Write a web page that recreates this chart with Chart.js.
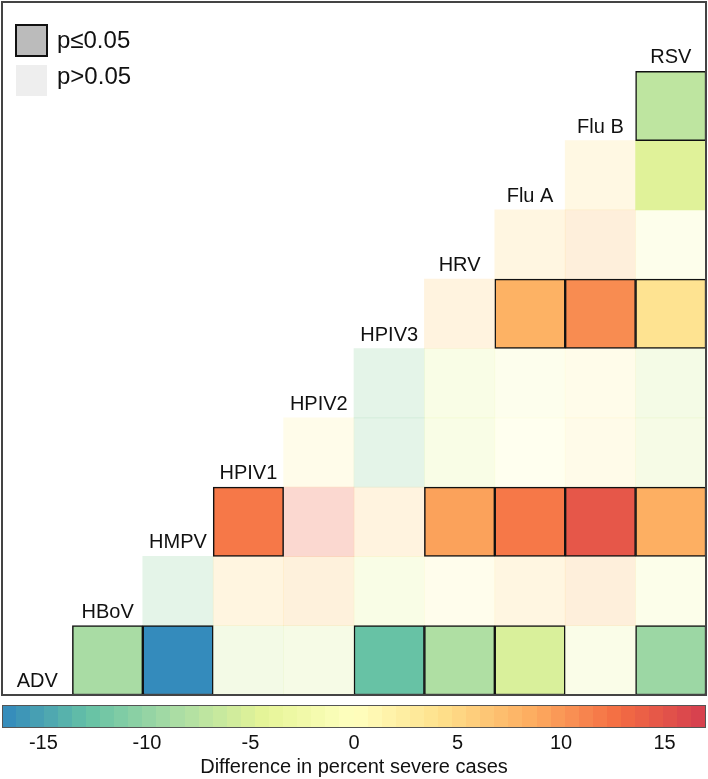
<!DOCTYPE html>
<html>
<head>
<meta charset="utf-8">
<script src="https://cdn.jsdelivr.net/npm/chart.js@4"></script>
<style>
  html, body { margin: 0; padding: 0; background: #fff; }
  canvas { display: block; }
</style>
</head>
<body>
<canvas id="graphique-virus" width="708" height="779"></canvas>
<script>
// Virus dans l'ordre des colonnes (gauche -> droite) et des lignes (bas -> haut)
const virus = ["ADV", "HBoV", "HMPV", "HPIV1", "HPIV2", "HPIV3", "HRV", "Flu A", "Flu B", "RSV"];

// Différence en % de cas sévères : une liste par ligne, colonnes à droite de la diagonale
const diffADV   = [-8.6, -16.8, -6, -5, -12.7, -8.2, -5.2, -3, -9.4];
const diffHBoV  = [-10, 5, 6.5, -4, 1, 4.5, 7, -2];
const diffHMPV  = [12, 13.5, 5.5, 9.3, 12, 14.7, 8.4];
const diffHPIV1 = [1.5, -10, -4, 0, 2, -5];
const diffHPIV2 = [-10, -4, -1, 1.5, -5.5];
const diffHPIV3 = [5.5, 8.2, 10.7, 3.8];
const diffHRV   = [4.5, 7, -1.5];
const diffFluA  = [4, -4.7];
const diffFluB  = [-7.1];

// Significativité : 1 = p≤0.05, 0 = p>0.05, 2 = affiché plein sans contour
const sigADV   = [1, 1, 0, 0, 1, 1, 1, 0, 1];
const sigHBoV  = [0, 0, 0, 0, 0, 0, 0, 0];
const sigHMPV  = [1, 0, 0, 1, 1, 1, 1];
const sigHPIV1 = [0, 0, 0, 0, 0, 0];
const sigHPIV2 = [0, 0, 0, 0, 0];
const sigHPIV3 = [0, 1, 1, 1];
const sigHRV   = [0, 0, 0];
const sigFluA  = [0, 2];
const sigFluB  = [1];

// Échelle de couleur et ticks de la barre de couleur
const echelleMin = -17;
const echelleMax = 17;
const ticksBarre = [-15, -10, -5, 0, 5, 10, 15];

const lignesDiff = [diffADV, diffHBoV, diffHMPV, diffHPIV1, diffHPIV2, diffHPIV3, diffHRV, diffFluA, diffFluB];
const lignesSig = [sigADV, sigHBoV, sigHMPV, sigHPIV1, sigHPIV2, sigHPIV3, sigHRV, sigFluA, sigFluB];

// Palette Spectral inversée (bleu -> rouge)
const spectral = ["#3288bd", "#66c2a5", "#abdda4", "#e6f598", "#ffffbf", "#fee08b", "#fdae61", "#f46d43", "#d53e4f"];
const hexVersRgb = h => [1, 3, 5].map(k => parseInt(h.slice(k, k + 2), 16));

function couleur(v, alpha) {
    const t = (Math.max(echelleMin, Math.min(echelleMax, v)) - echelleMin) / (echelleMax - echelleMin) * (spectral.length - 1);
    const k = Math.min(spectral.length - 2, Math.floor(t));
    const f = t - k;
    const c0 = hexVersRgb(spectral[k]), c1 = hexVersRgb(spectral[k + 1]);
    const c = c0.map((x, n) => Math.round(x + (c1[n] - x) * f));
    return `rgba(${c[0]}, ${c[1]}, ${c[2]}, ${alpha})`;
}

// Construction des cellules (barres flottantes d'une unité de haut)
const cellulesSig = [];
const cellulesNs = [];
lignesDiff.forEach((valeurs, i) => {
    valeurs.forEach((v, k) => {
        const j = i + 1 + k;
        const cellule = { x: virus[j], y: [i, i + 1], v: v, s: lignesSig[i][k] };
        if (cellule.s === 1) cellulesSig.push(cellule);
        else cellulesNs.push(cellule);
    });
});

const police = "'Liberation Sans', Arial, sans-serif";

// Cadre, étiquettes de la diagonale, légende et barre de couleur
const decorations = {
    id: "decorations",
    afterDatasetsDraw(chart) {
        const ctx = chart.ctx;
        const zone = chart.chartArea;
        const sx = chart.scales.x;
        const sy = chart.scales.y;
        ctx.save();

        // étiquettes sur la diagonale
        ctx.fillStyle = "#111";
        ctx.font = "20px " + police;
        ctx.textAlign = "center";
        ctx.textBaseline = "alphabetic";
        virus.forEach((nom, j) => {
            ctx.fillText(nom, sx.getPixelForValue(j), sy.getPixelForValue(j) - 8);
        });

        // légende p-value
        ctx.fillStyle = "#bbbbbb";
        ctx.fillRect(zone.left + 13, zone.top + 22, 33, 33);
        ctx.strokeStyle = "#111";
        ctx.lineWidth = 2;
        ctx.strokeRect(zone.left + 14, zone.top + 23, 31, 31);
        ctx.fillStyle = "#eeeeee";
        ctx.fillRect(zone.left + 14, zone.top + 63, 31, 31);
        ctx.fillStyle = "#111";
        ctx.font = "24px " + police;
        ctx.textAlign = "left";
        ctx.fillText("p\u22640.05", zone.left + 55, zone.top + 46);
        ctx.fillText("p>0.05", zone.left + 55, zone.top + 82);

        // cadre
        ctx.strokeStyle = "#444";
        ctx.lineWidth = 2;
        ctx.strokeRect(zone.left, zone.top, zone.right - zone.left, zone.bottom - zone.top);

        // barre de couleur sur l'axe "barre"
        const sb = chart.scales.barre;
        const haut = sb.top + 10;
        const hauteur = 22;
        const nbPas = 50;
        const pas = (echelleMax - echelleMin) / nbPas;
        for (let n = 0; n < nbPas; n++) {
            const a = echelleMin + n * pas;
            const x0 = sb.getPixelForValue(a);
            const x1 = sb.getPixelForValue(a + pas);
            ctx.fillStyle = couleur(a + pas / 2, 1);
            ctx.fillRect(Math.floor(x0), haut, Math.ceil(x1) - Math.floor(x0), hauteur);
        }
        ctx.strokeStyle = "#555";
        ctx.lineWidth = 1;
        ctx.strokeRect(sb.left + 0.5, haut + 0.5, sb.right - sb.left - 1, hauteur);
        ctx.restore();
    }
};

const config = {
    type: "bar",
    data: {
        labels: virus,
        datasets: [
            {
                label: "p≤0.05",
                data: cellulesSig,
                backgroundColor: c => couleur(c.raw.v, 1),
                borderColor: "#111",
                borderWidth: 1.5,
                borderSkipped: false,
                grouped: false,
                barPercentage: 1,
                categoryPercentage: 1,
                xAxisID: "x",
                yAxisID: "y",
                order: 0
            },
            {
                label: "p>0.05",
                data: cellulesNs,
                backgroundColor: c => couleur(c.raw.v, c.raw.s === 2 ? 1 : 0.25),
                borderWidth: 0,
                grouped: false,
                barPercentage: 1,
                categoryPercentage: 1,
                xAxisID: "x",
                yAxisID: "y",
                order: 1
            }
        ]
    },
    options: {
        responsive: false,
        animation: false,
        events: [],
        layout: { padding: { left: 2, right: 2, top: 2, bottom: 0 } },
        plugins: {
            legend: { display: false },
            tooltip: { enabled: false }
        },
        scales: {
            x: { type: "category", display: false, offset: true },
            y: { type: "linear", display: false, min: 0, max: 10 },
            barre: {
                type: "linear",
                axis: "x",
                position: "bottom",
                offset: false,
                bounds: "data",
                min: echelleMin,
                max: echelleMax,
                grid: { display: false, drawTicks: false, offset: false },
                border: { display: false },
                afterBuildTicks: s => { s.ticks = ticksBarre.map(v => ({ value: v })); },
                afterFit: s => {
                    s.height = 84;
                    s.paddingLeft = 0;
                    s.paddingRight = 0;
                },
                ticks: {
                    padding: 36,
                    color: "#111",
                    font: { family: police, size: 20 }
                },
                title: {
                    display: true,
                    text: "Difference in percent severe cases",
                    color: "#111",
                    font: { family: police, size: 20 },
                    padding: { top: 0, bottom: 0 }
                }
            }
        }
    },
    plugins: [decorations]
};

new Chart(document.querySelector("#graphique-virus"), config);
</script>
</body>
</html>
